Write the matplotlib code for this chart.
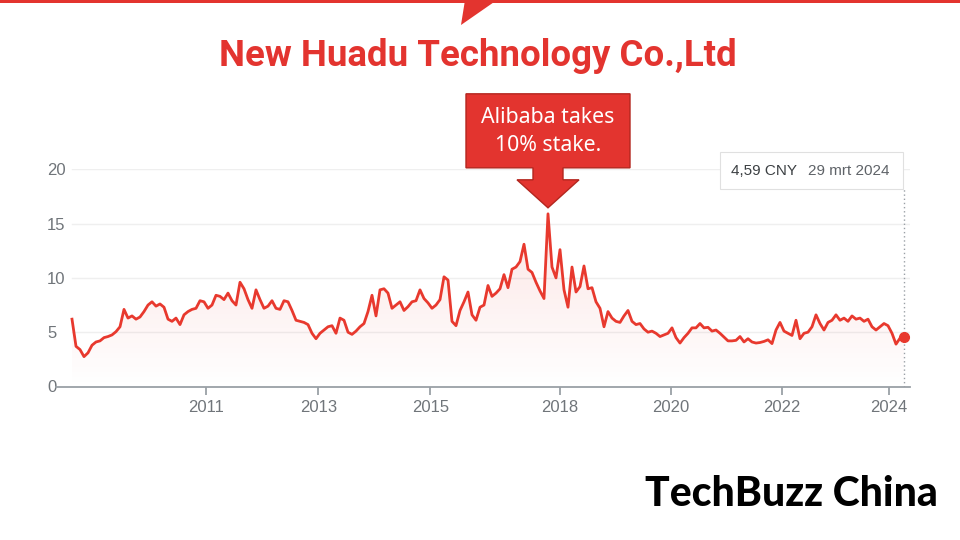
import numpy as np
import matplotlib
matplotlib.use("Agg")
import matplotlib.pyplot as plt
from matplotlib.patches import Polygon, Rectangle, FancyBboxPatch
from matplotlib.transforms import IdentityTransform

# ---------------- data ----------------
price = [
    6.2, 3.7, 3.4, 2.75, 3.1, 3.8, 4.1, 4.2, 4.5, 4.6,
    4.75, 5.05, 5.5, 7.1, 6.3, 6.5, 6.2, 6.4, 6.9, 7.5,
    7.8, 7.4, 7.6, 7.3, 6.2, 6.0, 6.3, 5.7, 6.6, 6.9,
    7.1, 7.2, 7.9, 7.8, 7.2, 7.5, 8.4, 8.3, 8.0, 8.6,
    7.9, 7.5, 9.6, 9.0, 8.0, 7.2, 8.9, 8.0, 7.2, 7.4,
    7.9, 7.2, 7.1, 7.9, 7.8, 7.0, 6.1, 6.0, 5.9, 5.7,
    4.9, 4.4, 4.9, 5.2, 5.5, 5.6, 4.9, 6.3, 6.1, 5.0,
    4.8, 5.1, 5.5, 5.8, 6.9, 8.4, 6.5, 8.9, 9.0, 8.6,
    7.2, 7.5, 7.8, 7.0, 7.35, 7.8, 7.9, 8.9, 8.1, 7.7,
    7.2, 7.5, 8.0, 10.1, 9.8, 6.0, 5.6, 7.0, 7.8, 8.7,
    6.6, 6.1, 7.3, 7.5, 9.3, 8.3, 8.6, 9.0, 10.3, 9.1,
    10.8, 11.0, 11.5, 13.1, 10.8, 10.5, 9.6, 8.8, 8.1, 15.9,
    11.0, 10.0, 12.6, 8.9, 7.3, 11.0, 8.7, 9.2, 11.1, 9.0,
    9.1, 7.8, 7.2, 5.5, 6.9, 6.3, 6.0, 5.9, 6.5, 7.0,
    6.0, 5.7, 5.8, 5.3, 5.0, 5.1, 4.9, 4.6, 4.75, 4.9,
    5.4, 4.5, 4.0, 4.5, 4.9, 5.4, 5.4, 5.8, 5.4, 5.45,
    5.1, 5.2, 4.9, 4.55, 4.2, 4.2, 4.25, 4.6, 4.1, 4.4,
    4.1, 4.0, 4.05, 4.15, 4.3, 3.95, 5.2, 5.9, 5.1, 4.9,
    4.7, 6.1, 4.4, 4.9, 5.0, 5.5, 6.6, 5.8, 5.2, 5.9,
    6.1, 6.6, 6.1, 6.3, 6.0, 6.5, 6.2, 6.3, 6.0, 6.2,
    5.5, 5.2, 5.5, 5.8, 5.6, 4.9, 3.9, 4.45, 4.59,
]
sample_idx = np.arange(len(price))          # evenly spaced sample positions
year_labels = ["2011", "2013", "2015", "2018", "2020", "2022", "2024"]
year_pos = [33.6, 61.6, 89.6, 122.0, 149.7, 177.4, 204.3]
y_ticks = [0, 5, 10, 15, 20]
title = "New Huadu Technology Co.,Ltd"
note_lines = ["Alibaba takes", "10% stake."]
tooltip_value = "4,59 CNY"
tooltip_date = "29 mrt 2024"
logo = "TechBuzz China"

RED = "#e3342f"
LINE = "#e8392e"
GREY = "#70757a"
AXIS = "#9aa0a6"

W, H = 960, 540
fig = plt.figure(figsize=(W / 100, H / 100), dpi=100)
fig.patch.set_facecolor("white")


def fx(x):
    return x / W


def fy(y):
    return 1 - y / H


renderer = fig.canvas.get_renderer()


def fit_width(t, target):
    w = t.get_window_extent(renderer).width
    t.set_fontsize(t.get_fontsize() * target / w)


# top red band with notch
fig.patches.append(Rectangle((0, fy(3)), 1, 3 / H, transform=fig.transFigure,
                             facecolor=RED, edgecolor="none"))
fig.patches.append(Polygon([(fx(465), fy(0)), (fx(497), fy(0)), (fx(461), fy(25))],
                           closed=True, transform=fig.transFigure,
                           facecolor=RED, edgecolor="none"))

# title
t = fig.text(fx(478), fy(66), title, ha="center", va="baseline", color=RED,
             fontsize=28, fontweight="bold",
             family=["Roboto", "DejaVu Sans"])
fit_width(t, 517)

# ---------------- chart ----------------
ax = fig.add_axes([fx(56), fy(386.5), fx(910) - fx(56), (386.5 - 169.3) / H])
ax.set_facecolor("none")
for s in ["left", "right", "top"]:
    ax.spines[s].set_visible(False)
ax.spines["bottom"].set_color(AXIS)
ax.spines["bottom"].set_linewidth(1.3)

for v in y_ticks[1:]:
    ax.axhline(v, xmin=0.019, xmax=1, color="#efefef", lw=1, zorder=0)

ax.plot(sample_idx, price, color=LINE, lw=2.0, solid_joinstyle="round", zorder=3)

# gradient fill under the line
fill = ax.fill_between(sample_idx, price, 0, color="none")
grad = np.zeros((256, 1, 4))
grad[:, 0, 0] = 0.91
grad[:, 0, 1] = 0.25
grad[:, 0, 2] = 0.22
grad[:, 0, 3] = np.linspace(0.0, 0.14, 256)
im = ax.imshow(grad, extent=[sample_idx[0], sample_idx[-1], 0, 16], origin="lower",
               aspect="auto", zorder=1)
im.set_clip_path(fill.get_paths()[0], transform=ax.transData)

ax.set_xlim(-4, 209.5)
ax.set_ylim(0, 20)

ax.set_yticks(y_ticks)
ax.set_yticklabels([str(v) for v in y_ticks])
ax.tick_params(axis="y", length=0, pad=6.5, labelcolor=GREY, labelsize=12)
for lab in ax.get_yticklabels():
    lab.set_horizontalalignment("left")
    lab.set_family(["Liberation Sans", "DejaVu Sans"])

ax.set_xticks(year_pos)
ax.set_xticklabels(year_labels)
ax.tick_params(axis="x", length=6, width=1.3, color=AXIS, pad=4,
               labelcolor=GREY, labelsize=12)
for lab in ax.get_xticklabels():
    lab.set_family(["Liberation Sans", "DejaVu Sans"])

# end marker and dotted hover line
ax.plot(sample_idx[-1], price[-1], "o", ms=7, color=LINE, clip_on=False, zorder=5)
ax.axvline(sample_idx[-1], ymin=0, ymax=(386.5 - 189) / (386.5 - 169.3),
           color=AXIS, lw=1, ls=(0, (1, 2)), zorder=2)

# tooltip
fig.patches.append(FancyBboxPatch((fx(720), fy(189)), fx(903) - fx(720), 37 / H,
                                  boxstyle="square,pad=0", transform=fig.transFigure,
                                  facecolor="white", edgecolor="#e0e0e0", lw=0.8,
                                  zorder=5))
fig.text(fx(731), fy(171), tooltip_value, ha="left", va="center", color="#3c4043",
         fontsize=11, family=["Liberation Sans", "DejaVu Sans"], zorder=6)
fig.text(fx(808), fy(171), tooltip_date, ha="left", va="center", color="#5f6368",
         fontsize=11, family=["Liberation Sans", "DejaVu Sans"], zorder=6)

# annotation callout pointing at the peak
imax = int(np.argmax(price))
px, py = ax.transData.transform((sample_idx[imax], price[imax]))
tx, ty = px, py + 6
callout = [
    (tx - 82, ty + 114), (tx + 82, ty + 114), (tx + 82, ty + 40),
    (tx + 15, ty + 40), (tx + 15, ty + 28), (tx + 31, ty + 28), (tx, ty),
    (tx - 31, ty + 28), (tx - 15, ty + 28), (tx - 15, ty + 40), (tx - 82, ty + 40),
]
fig.patches.append(Polygon(callout, closed=True, transform=IdentityTransform(),
                           facecolor=RED, edgecolor="#b3261e", lw=1.0, zorder=4))
box_cx = tx / W
l1 = fig.text(box_cx, (ty + 114 - 24) / H, note_lines[0], ha="center", va="center",
              color="white", fontsize=15, family=["Noto Sans", "DejaVu Sans"], zorder=6)
fit_width(l1, 134)
fig.text(box_cx, (ty + 114 - 52) / H, note_lines[1], ha="center", va="center",
         color="white", fontsize=l1.get_fontsize(), family=["Noto Sans", "DejaVu Sans"],
         zorder=6)

# logo
lg = fig.text(fx(645), fy(506), logo, ha="left", va="baseline", color="black",
              fontsize=22, fontweight="black", family=["Lato", "DejaVu Sans"])
fit_width(lg, 292)

fig.savefig("out.png", dpi=100)
